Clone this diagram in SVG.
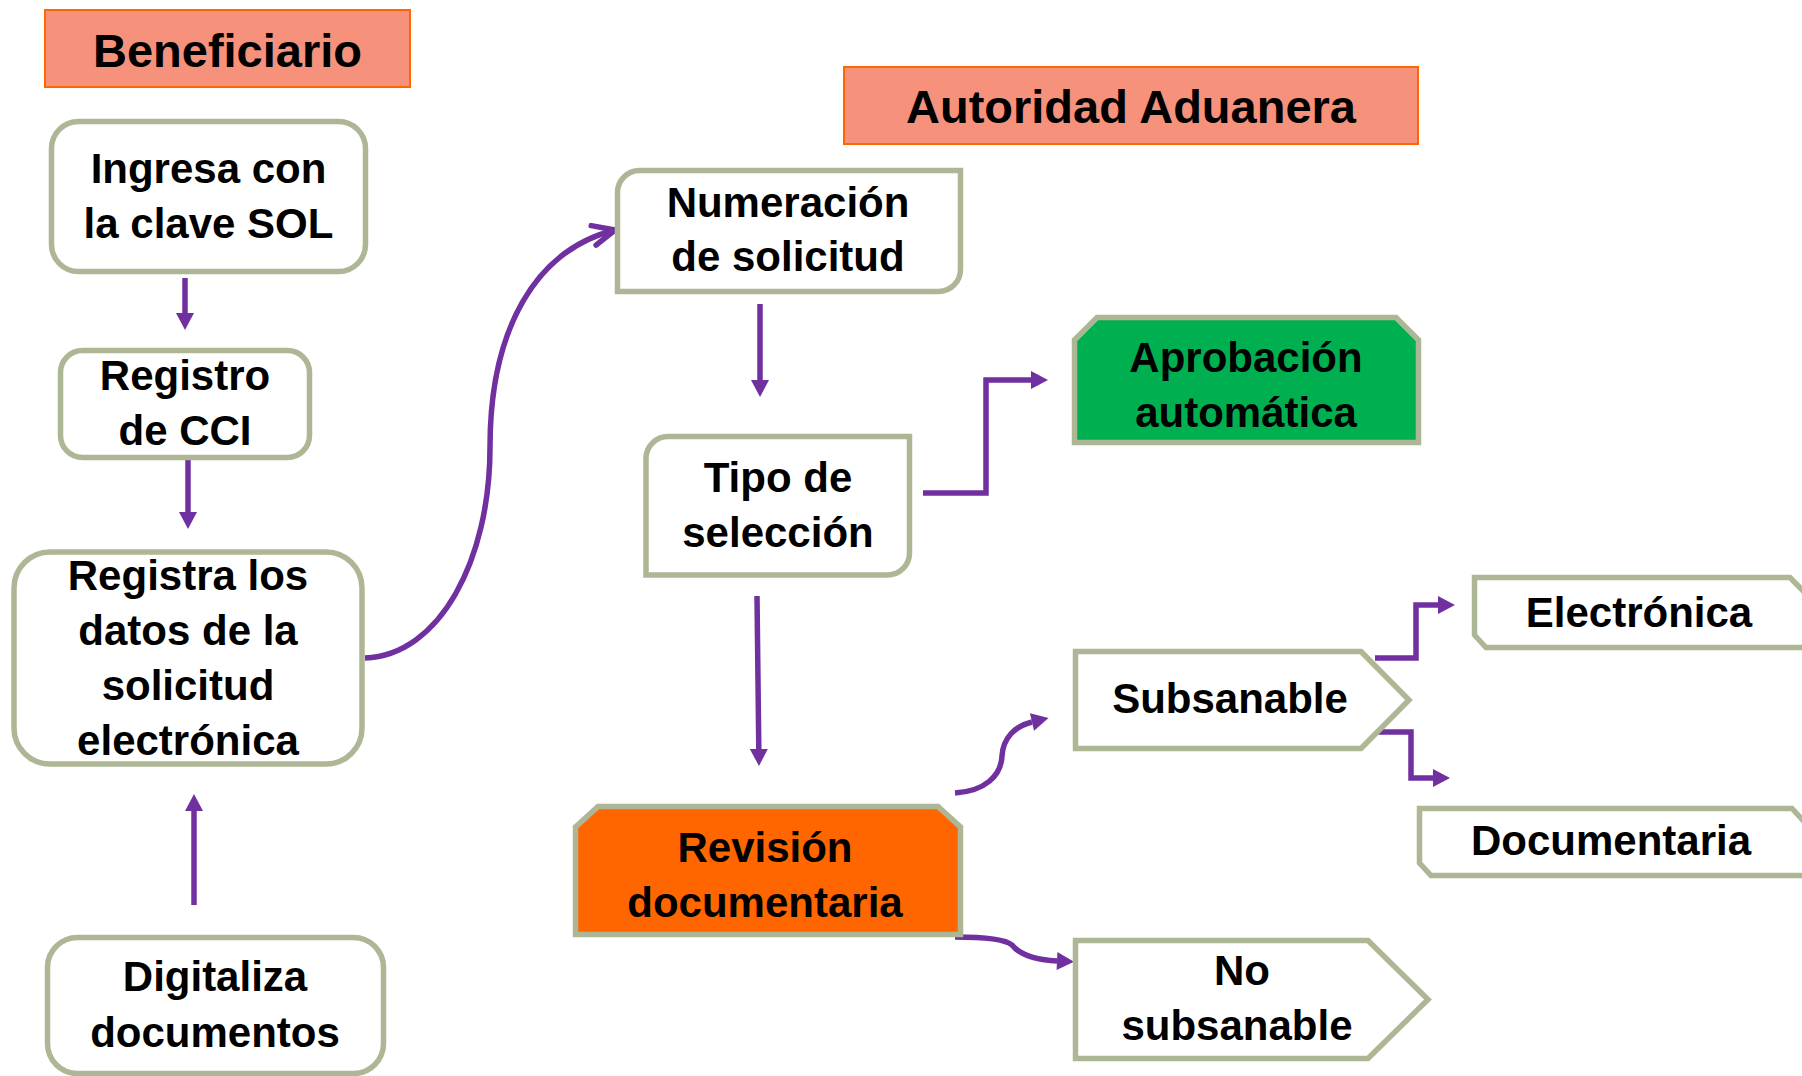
<svg xmlns="http://www.w3.org/2000/svg" width="1802" height="1076" viewBox="0 0 1802 1076">
<style>
.hdr{fill:#F6917C;stroke:#FF6600;stroke-width:2}
.node{fill:#FFFFFF;stroke:#AEB795;stroke-width:5.5;stroke-linejoin:miter}
.green{fill:#00B050}
.orange{fill:#FF6600}
.t{font-family:"Liberation Sans",Arial,sans-serif;font-weight:bold;font-size:42px;fill:#000;text-anchor:middle}
.th{font-family:"Liberation Sans",Arial,sans-serif;font-weight:bold;font-size:47px;fill:#000;text-anchor:middle}
.c{fill:none;stroke:#7030A0;stroke-width:5.5}
</style>
<defs>
<marker id="ah" markerUnits="userSpaceOnUse" viewBox="0 -9 17 18" refX="0" refY="0" markerWidth="17" markerHeight="18" orient="auto" overflow="visible">
<path d="M0,-9 L17,0 L0,9 Z" fill="#7030A0"/>
</marker>
<marker id="open" markerUnits="userSpaceOnUse" viewBox="-25 -12 27 24" refX="0" refY="0" markerWidth="27" markerHeight="24" orient="auto" overflow="visible">
<path d="M-22,-10 L0,0 L-22,10" fill="none" stroke="#7030A0" stroke-width="5.5" stroke-linecap="round" stroke-linejoin="round"/>
</marker>
</defs>

<g id="hdr-beneficiario">
<rect class="hdr" x="45" y="10" width="365" height="77"/>
<text class="th" x="227.5" y="67">Beneficiario</text>
</g>
<g id="hdr-autoridad">
<rect class="hdr" x="844" y="67" width="574" height="77"/>
<text class="th" x="1131" y="123">Autoridad Aduanera</text>
</g>

<g id="connectors">
<path class="c" d="M185,278 V313" marker-end="url(#ah)"/>
<path class="c" d="M188,457 V512" marker-end="url(#ah)"/>
<path class="c" d="M194,905 V811" marker-end="url(#ah)"/>
<path class="c" d="M365,658 C440,655 490,560 490,447 C490,330 535,250 615,230" marker-end="url(#open)"/>
<path class="c" d="M760,304 V380" marker-end="url(#ah)"/>
<path class="c" d="M923,493 H986 V380 H1031" marker-end="url(#ah)"/>
<path class="c" d="M757,596 L758.8,749" marker-end="url(#ah)"/>
<path class="c" d="M955,793 C985,791 1001,776 1002,756 C1003,738 1015,726 1032,722" marker-end="url(#ah)"/>
<path class="c" d="M955,937 C985,937 1005,939 1012,945 C1020,955 1035,960 1057,961" marker-end="url(#ah)"/>
<path class="c" d="M1375,658 H1416 V605 H1438" marker-end="url(#ah)"/>
<path class="c" d="M1372,732 H1411 V778 H1433" marker-end="url(#ah)"/>
</g>

<g id="n-ingresa">
<rect class="node" x="51.5" y="121.5" width="314" height="150" rx="27"/>
<text class="t" x="208.5" y="183">Ingresa con</text>
<text class="t" x="208.5" y="238">la clave SOL</text>
</g>
<g id="n-registro-cci">
<rect class="node" x="60.5" y="350.5" width="249" height="107" rx="22"/>
<text class="t" x="185" y="390">Registro</text>
<text class="t" x="185" y="445">de CCI</text>
</g>
<g id="n-registra">
<rect class="node" x="14" y="552" width="348" height="212" rx="36"/>
<text class="t" x="188" y="590">Registra los</text>
<text class="t" x="188" y="645">datos de la</text>
<text class="t" x="188" y="700">solicitud</text>
<text class="t" x="188" y="755">electrónica</text>
</g>
<g id="n-digitaliza">
<rect class="node" x="47.5" y="937.5" width="336" height="136" rx="30"/>
<text class="t" x="215" y="991">Digitaliza</text>
<text class="t" x="215" y="1047">documentos</text>
</g>
<g id="n-numeracion">
<path class="node" d="M617.5,192.5 A22,22 0 0 1 639.5,170.5 H960.5 V269.5 A22,22 0 0 1 938.5,291.5 H617.5 Z"/>
<text class="t" x="788" y="217">Numeración</text>
<text class="t" x="788" y="271">de solicitud</text>
</g>
<g id="n-tipo">
<path class="node" d="M646,458.5 A22,22 0 0 1 668,436.5 H909.5 V553 A22,22 0 0 1 887.5,575 H646 Z"/>
<text class="t" x="778" y="492">Tipo de</text>
<text class="t" x="778" y="547">selección</text>
</g>
<g id="n-aprobacion">
<path class="node green" d="M1074.5,340 L1097,317.5 H1396 L1418.5,340 V442.5 H1074.5 Z"/>
<text class="t" x="1246" y="372">Aprobación</text>
<text class="t" x="1246" y="427">automática</text>
</g>
<g id="n-revision">
<path class="node orange" d="M575.5,827 L598,806.5 H938 L960.5,827 V934.5 H575.5 Z"/>
<text class="t" x="765" y="862">Revisión</text>
<text class="t" x="765" y="917">documentaria</text>
</g>
<g id="n-subsanable">
<path class="node" d="M1075.5,651.5 H1361 L1409,700 L1361,748.5 H1075.5 Z"/>
<text class="t" x="1230" y="713">Subsanable</text>
</g>
<g id="n-no-subsanable">
<path class="node" d="M1075.5,940.5 H1368 L1428,999.5 L1368,1058.5 H1075.5 Z"/>
<text class="t" x="1242" y="985">No</text>
<text class="t" x="1237" y="1040">subsanable</text>
</g>
<g id="n-electronica">
<path class="node" d="M1474.5,577.5 H1790 L1812,600 V647.5 H1486 L1474.5,635 Z"/>
<text class="t" x="1639" y="627">Electrónica</text>
</g>
<g id="n-documentaria">
<path class="node" d="M1419.5,808.5 H1792 L1812,830 V875.5 H1431 L1419.5,863 Z"/>
<text class="t" x="1611" y="855">Documentaria</text>
</g>
</svg>
